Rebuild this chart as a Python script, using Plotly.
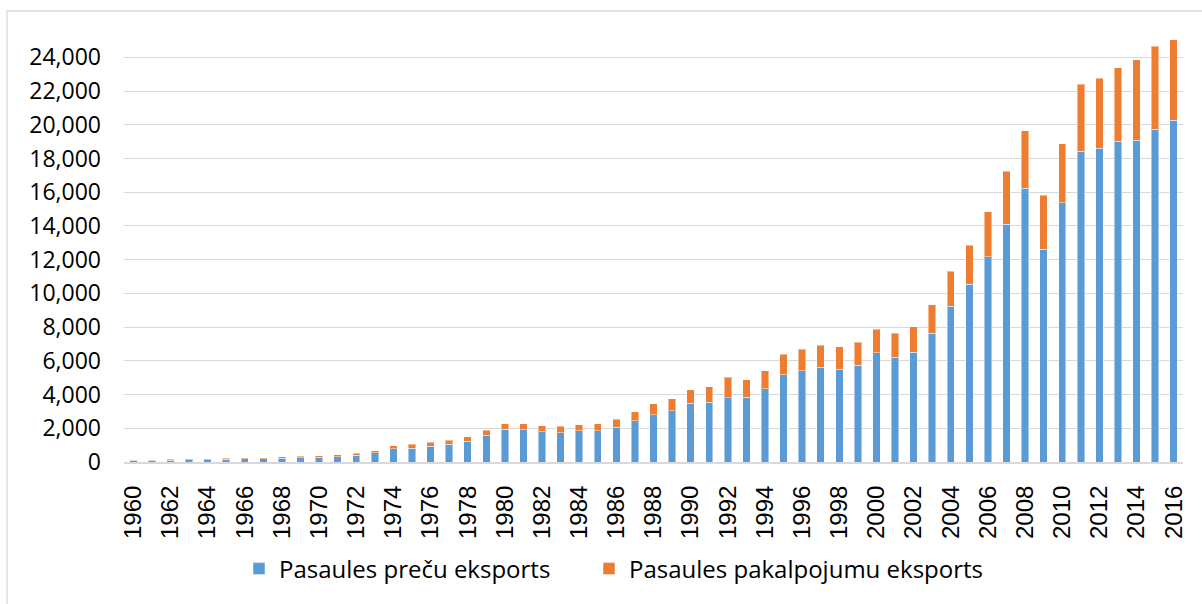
import plotly.graph_objects as go

years = list(range(1960, 2017))
goods = [90, 90, 95, 120, 140, 150, 180, 185, 215, 245,
         285, 320, 400, 540, 800, 830, 920, 1060, 1240, 1600,
         1941, 1921, 1782, 1723, 1842, 1861, 2059, 2436, 2792, 3030,
         3485, 3545, 3802, 3842, 4337, 5188, 5420, 5630, 5516, 5733,
         6484, 6227, 6524, 7631, 9252, 10557, 12178, 14096, 16230, 12633,
         15381, 18425, 18603, 19038, 19077, 19750, 20264]
services = [50, 55, 55, 60, 60, 60, 70, 75, 85, 95,
            100, 105, 110, 140, 160, 210, 240, 230, 260, 290,
            336, 356, 376, 396, 376, 396, 476, 554, 654, 732,
            792, 930, 1228, 1049, 1069, 1208, 1280, 1295, 1324, 1384,
            1404, 1424, 1502, 1700, 2056, 2313, 2669, 3163, 3421, 3182,
            3499, 3993, 4152, 4349, 4785, 4922, 4784]
series_names = ["Pasaules preču eksports", "Pasaules pakalpojumu eksports"]
colors = ["#5B9BD5", "#ED7D31"]
y_ticks = list(range(0, 24001, 2000))
x_ticks = list(range(1960, 2017, 2))

W, H = 1202, 604
L, R, T, B = 124, 19, 36, 142
pw, ph = W - L - R, H - T - B

fig = go.Figure()
legend_ids = ["legend", "legend2"]
legend_starts = [239, 589]
for name, vals, col, lid in zip(series_names, [goods, services], colors, legend_ids):
    fig.add_trace(go.Bar(
        x=years, y=vals, name=name, legend=lid,
        marker=dict(color=col, line=dict(color="rgba(255,255,255,0.45)", width=1)),
    ))

legend_common = dict(
    orientation="h", xanchor="left",
    y=(462 - 569) / ph, yanchor="middle",
    font=dict(family="Open Sans", size=24, color="#000000"),
    itemclick=False, itemdoubleclick=False, bgcolor="rgba(0,0,0,0)",
)

fig.update_layout(
    width=W, height=H,
    margin=dict(l=L, r=R, t=T, b=B),
    barmode="stack", bargap=0.6,
    plot_bgcolor="white", paper_bgcolor="white",
    font=dict(family="Open Sans", size=23, color="#000000"),
    showlegend=True,
    legend=dict(x=(legend_starts[0] - L) / pw, **legend_common),
    legend2=dict(x=(legend_starts[1] - L) / pw, **legend_common),
    xaxis=dict(
        range=[1959.5, 2016.5], tickmode="array", tickvals=x_ticks,
        ticktext=[str(v) for v in x_ticks], tickangle=-90,
        tickfont=dict(family="Arial", size=24, color="#000000"),
        showgrid=False, showline=True, linecolor="#D9D9D9", linewidth=2,
        ticks="", ticklabelstandoff=12, zeroline=False,
    ),
    yaxis=dict(
        range=[0, 24000 * ph / 404.6], tickmode="array", tickvals=y_ticks,
        ticktext=[f"{v:,}" for v in y_ticks],
        tickfont=dict(family="Open Sans", size=23, color="#000000"),
        showgrid=True, gridcolor="#D9D9D9", gridwidth=1.3,
        zeroline=False, showline=False, ticks="", ticklabelstandoff=22,
    ),
    shapes=[dict(
        type="rect", xref="paper", yref="paper",
        x0=(7 - L) / pw, x1=(1215 - L) / pw,
        y0=(462 - 640) / ph, y1=(462 - 11) / ph,
        line=dict(color="#D9D9D9", width=1.3), fillcolor="rgba(0,0,0,0)",
        layer="below",
    )],
)

fig.write_html(
    "out.html",
    config={"displayModeBar": False},
    post_script="document.body.style.margin='0';document.body.style.overflow='hidden';",
)
